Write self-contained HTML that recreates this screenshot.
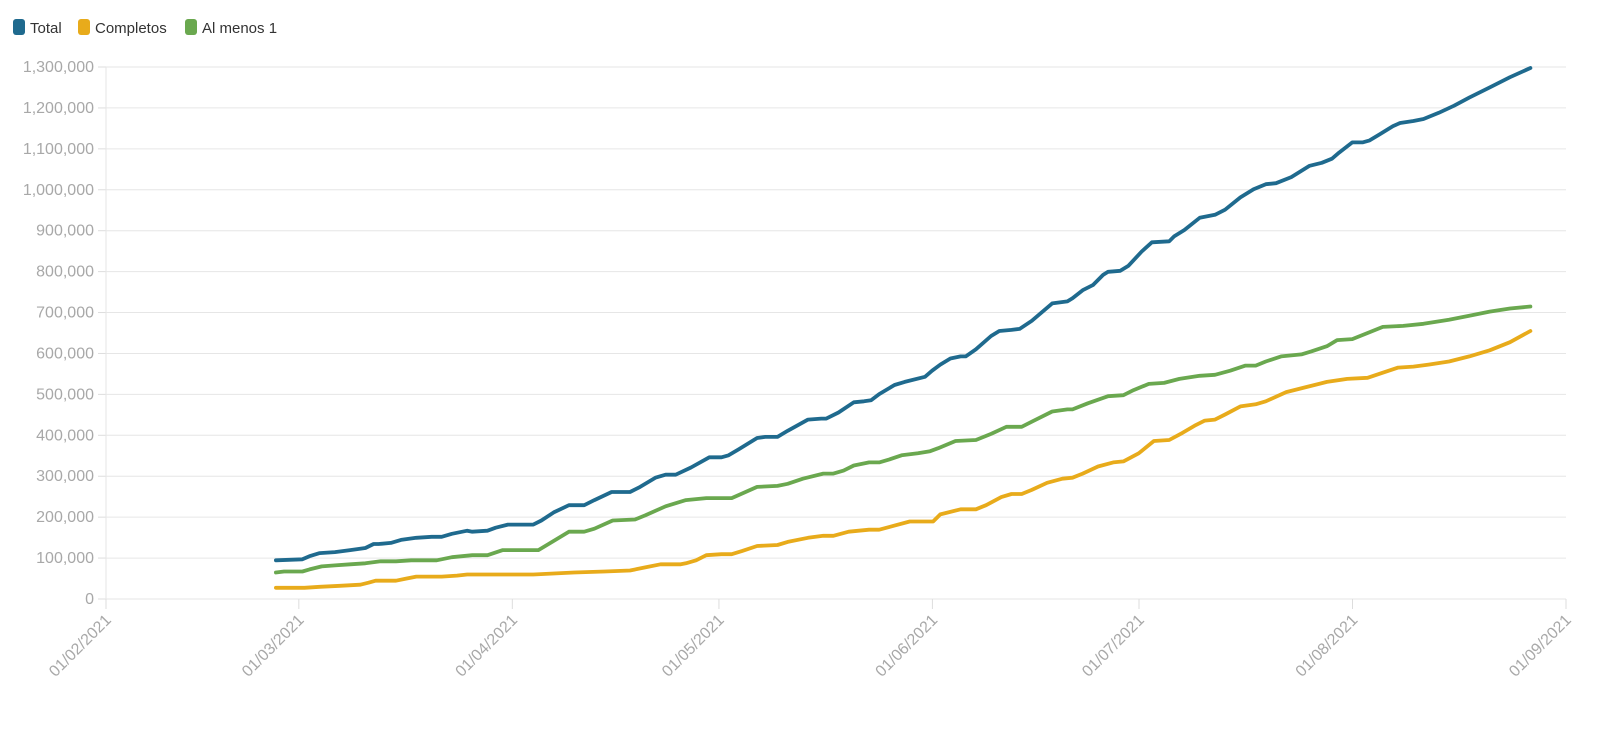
<!DOCTYPE html>
<html><head><meta charset="utf-8"><style>
body{margin:0;background:#fff;width:1600px;height:725px;overflow:hidden;font-family:"Liberation Sans",sans-serif}
</style></head><body>
<svg id="s" width="1600" height="725" xmlns="http://www.w3.org/2000/svg" font-family="Liberation Sans, sans-serif">
<g font-size="15" fill="#333">
<rect x="13" y="19" width="12" height="16" rx="3" fill="#1f6a8e"/><text x="30" y="33">Total</text>
<rect x="78" y="19" width="12" height="16" rx="3" fill="#e8ab1b"/><text x="95" y="33">Completos</text>
<rect x="185" y="19" width="12" height="16" rx="3" fill="#6aa84f"/><text x="202" y="33">Al menos 1</text>
</g>
<g id="grid"></g>
<g id="lines" fill="none" stroke-width="3.8" stroke-linejoin="round" stroke-linecap="round"></g>
</svg>
<script>
var ns="http://www.w3.org/2000/svg",g=document.getElementById('grid'),L=document.getElementById('lines');
function el(t,a,p,txt){var e=document.createElementNS(ns,t);for(var k in a)e.setAttribute(k,a[k]);if(txt)e.textContent=txt;p.appendChild(e);return e;}
var y0=599,yt=67,x0=106,x1=1566;
for(var i=0;i<=13;i++){var y=y0-(y0-yt)*i/13;
el('line',{x1:x0,x2:x1,y1:y,y2:y,stroke:'#e6e6e6','stroke-width':1},g);
el('line',{x1:x0-8,x2:x0,y1:y,y2:y,stroke:'#ddd','stroke-width':1},g);
el('text',{x:x0-12,y:y+5,'text-anchor':'end','font-size':16,fill:'#a8a8a8'},g,(i*100000).toLocaleString('en-US'));}
el('line',{x1:x0,x2:x0,y1:yt,y2:y0+8,stroke:'#e6e6e6'},g);
var dates=[["01/02/2021",0],["01/03/2021",28],["01/04/2021",59],["01/05/2021",89],["01/06/2021",120],["01/07/2021",150],["01/08/2021",181],["01/09/2021",212]];
dates.forEach(function(d){var x=x0+d[1]*(x1-x0)/212;
el('line',{x1:x,x2:x,y1:y0,y2:y0+10,stroke:'#ddd'},g);
el('text',{x:x+6,y:y0+22,'text-anchor':'end','font-size':16,fill:'#a8a8a8',transform:'rotate(-45 '+(x+6)+' '+(y0+22)+')'},g,d[0]);});
function T(x,y){return [106+(x-100)*1.0174,599-(588-y)*1.0192];}
var S={
"#1f6a8e":[267,550,293,549,300,546,310,543,325,542,340,540,355,538,363,534,368,534,380,533,390,530,405,528,420,527,430,527,440,524,455,521,460,522,475,521,483,518,495,515,505,515,520,515,528,511,540,503,555,496,570,496,580,491,597,483,605,483,615,483,625,478,640,469,650,466,660,466,675,459,693,449,705,449,712,447,722,441,740,430,748,429,760,429,770,423,790,412,803,411,808,411,820,405,835,395,845,394,852,393,860,387,875,378,885,375,905,370,912,364,920,358,930,352,940,350,945,350,955,343,970,330,978,325,990,324,998,323,1010,315,1030,298,1045,296,1050,293,1060,285,1070,280,1080,270,1085,267,1097,266,1105,261,1118,247,1128,238,1145,237,1150,232,1160,226,1175,214,1190,211,1200,206,1215,194,1228,186,1240,181,1250,180,1265,174,1283,163,1295,160,1305,156,1312,150,1325,140,1335,140,1342,138,1352,132,1365,124,1372,121,1385,119,1395,117,1410,111,1425,104,1440,96,1460,86,1480,76,1500,67],
"#6aa84f":[267,562,275,561,293,561,300,559,312,556,325,555,340,554,355,553,370,551,385,551,400,550,425,550,440,547,460,545,475,545,490,540,510,540,525,540,535,534,555,522,570,522,580,519,598,511,620,510,630,506,650,497,670,491,690,489,700,489,715,489,722,486,740,478,760,477,770,475,785,470,805,465,815,465,825,462,835,457,850,454,860,454,870,451,882,447,898,445,910,443,918,440,935,433,955,432,970,426,985,419,1000,419,1010,414,1030,404,1045,402,1050,402,1065,396,1085,389,1100,388,1110,383,1125,377,1140,376,1155,372,1175,369,1190,368,1205,364,1220,359,1230,359,1240,355,1255,350,1275,348,1285,345,1300,340,1310,334,1325,333,1340,327,1355,321,1375,320,1395,318,1420,314,1440,310,1460,306,1480,303,1500,301],
"#e8ab1b":[267,577,295,577,310,576,330,575,350,574,358,572,365,570,385,570,395,568,405,566,430,566,445,565,455,564,480,564,520,564,560,562,590,561,615,560,630,557,645,554,665,554,670,553,680,550,690,545,705,544,715,544,725,541,740,536,760,535,770,532,790,528,805,526,815,526,830,522,850,520,860,520,875,516,890,512,900,512,913,512,920,505,940,500,955,500,965,496,980,488,990,485,1000,485,1010,481,1025,474,1040,470,1050,469,1060,465,1075,458,1090,454,1100,453,1115,445,1130,433,1145,432,1158,425,1170,418,1180,413,1190,412,1200,407,1215,399,1230,397,1240,394,1260,385,1280,380,1300,375,1320,372,1340,371,1355,366,1370,361,1385,360,1400,358,1420,355,1440,350,1460,344,1480,336,1500,325]};
["#e8ab1b","#6aa84f","#1f6a8e"].forEach(function(c){var a=S[c],p=[];for(var i=0;i<a.length;i+=2){var q=T(a[i],a[i+1]);p.push(q[0].toFixed(1)+','+q[1].toFixed(1));}
el('polyline',{points:p.join(' '),stroke:c},L);});
</script>
</body></html>
